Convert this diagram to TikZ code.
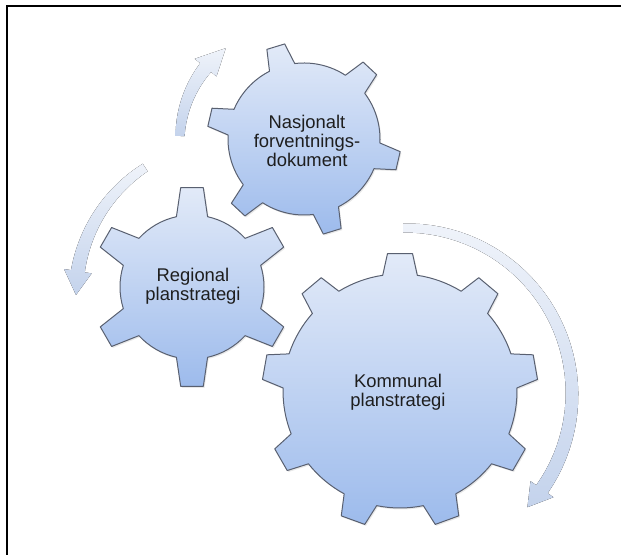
\documentclass[tikz,border=0pt]{standalone}
\usepackage{fontspec}
\setmainfont{Liberation Sans}
\usetikzlibrary{shadows}
\definecolor{geartop}{HTML}{E2EAF8}
\definecolor{gearbot}{HTML}{9DBBEC}
\definecolor{gearline}{HTML}{596070}
\definecolor{arrowtop}{HTML}{EFF3FA}
\definecolor{arrowbot}{HTML}{C4D3EC}
\definecolor{labeltext}{HTML}{1E1E1E}
\tikzset{
  gearbody/.style={draw=gearline, line width=1bp, line join=round, top color=geartop, bottom color=gearbot,
    drop shadow={opacity=0.18, shadow xshift=1.2bp, shadow yshift=-1.5bp}},
  cyclebody/.style={top color=arrowtop, bottom color=arrowbot, draw=none},
  gearlabel/.style={align=center, text=labeltext, inner sep=0pt,
    font=\fontsize{18.4bp}{19.3bp}\selectfont}
}
\newcommand{\drawgear}[7]{%
  \begin{scope}[shift={(#1)}]
    \draw[gearbody] (#3-#7:#5)
      \foreach \k [evaluate=\k as \t using #3+(\k-1)*360/#2] in {1,...,#2} {
        -- (\t-#6:#4) -- (\t+#6:#4) -- (\t+#7:#5)
        arc[start angle=\t+#7, end angle=\t+360/#2-#7, radius=#5]
      } -- cycle;
  \end{scope}}
\newcommand{\cyclearrow}[5]{%
  \begin{scope}[shift={(#1)}]
    \fill[cyclebody]
      plot[domain=#3:#4, samples=40, variable=\ang] (\ang:{#2+4.5+2.5*(\ang-(#3))/((#4)-(#3))})
      -- (#4:{#2+14}) -- (#5:#2) -- (#4:{#2-14})
      -- plot[domain=#4:#3, samples=40, variable=\ang] (\ang:{#2-4.5-2.5*(\ang-(#3))/((#4)-(#3))})
      -- cycle;
  \end{scope}}

\begin{document}
\begin{tikzpicture}[x=1bp, y=1bp]
            \useasboundingbox (0,0) rectangle (621,555);
            \draw[line width=1.8bp] (6.8,0) -- (6.8,549.2) -- (621,549.2);

            \coordinate (nasj) at (304,416);
            \coordinate (reg) at (192,268);
            \coordinate (komm) at (400,164);
            \coordinate (upturn) at (295,415);
            \coordinate (leftturn) at (228,260);
            \coordinate (rightturn) at (406,161);

            \cyclearrow{upturn}{115}{178}{141}{127}
            \cyclearrow{leftturn}{152}{123}{171}{180}
            \cyclearrow{rightturn}{166}{91}{-35}{-43}

            \drawgear{nasj}{6}{107}{97}{76}{5.5}{10}
            \drawgear{reg}{6}{90}{100}{72}{6.5}{12.5}
            \drawgear{komm}{9}{90}{138}{117}{5.2}{8.5}

            \node[gearlabel] (nasjtext) at (307,414) {Nasjonalt\\forventnings-\\dokument};
            \node[gearlabel] (regtext) at (193,269) {Regional\\planstrategi};
            \node[gearlabel] (kommtext) at (398,163) {Kommunal\\planstrategi};
\end{tikzpicture}
\end{document}
